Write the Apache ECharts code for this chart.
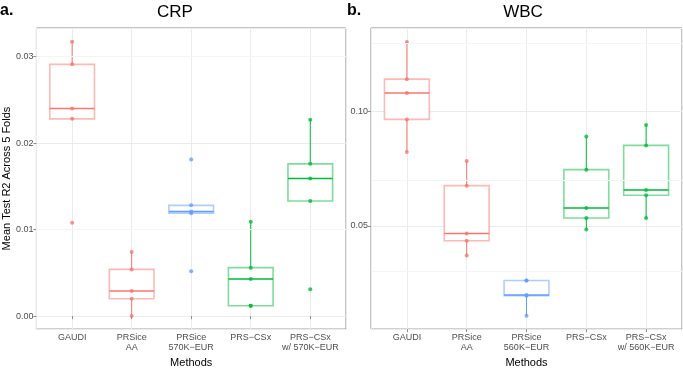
<!DOCTYPE html>
<html>
<head>
<meta charset="utf-8">
<script src="https://cdn.jsdelivr.net/npm/echarts@6/dist/echarts.min.js"></script>
<style>
html, body { margin: 0; padding: 0; background: #fff; }
#chart { width: 683px; height: 373px; }
</style>
</head>
<body>
<div id="chart"></div>
<script>
// methods (x categories)
var crpMethods = ['GAUDI', 'PRSice\nAA', 'PRSice\n570K\u2212EUR', 'PRS\u2212CSx', 'PRS\u2212CSx\nw/ 570K\u2212EUR'];
var wbcMethods = ['GAUDI', 'PRSice\nAA', 'PRSice\n560K\u2212EUR', 'PRS\u2212CSx', 'PRS\u2212CSx\nw/ 560K\u2212EUR'];
var methodColors = ['#F8766D', '#F8766D', '#619CFF', '#00BA38', '#00BA38'];

// per-fold R2 values
var crpPoints = [
  [0.0317, 0.0291, 0.0240, 0.0228, 0.0108],
  [0.0074, 0.0054, 0.0029, 0.0020, 0.0000],
  [0.0181, 0.0128, 0.0121, 0.0119, 0.0052],
  [0.0109, 0.0056, 0.0043, 0.0012, 0.0012],
  [0.0227, 0.0176, 0.0159, 0.0133, 0.0031]
];
var wbcPoints = [
  [0.1305, 0.1142, 0.1081, 0.0966, 0.0823],
  [0.0784, 0.0676, 0.0466, 0.0435, 0.0370],
  [0.0261, 0.0261, 0.0197, 0.0194, 0.0106],
  [0.0891, 0.0746, 0.0578, 0.0534, 0.0484],
  [0.0941, 0.0852, 0.0657, 0.0634, 0.0534]
];

// box stats: [lower whisker, Q1, median, Q3, upper whisker]
var crpBoxes = [
  [0.0228, 0.0228, 0.0240, 0.0291, 0.0317],
  [0.0000, 0.0020, 0.0029, 0.0054, 0.0074],
  [0.0119, 0.0119, 0.0121, 0.0128, 0.0128],
  [0.0012, 0.0012, 0.0043, 0.0056, 0.0109],
  [0.0133, 0.0133, 0.0159, 0.0176, 0.0227]
];
var wbcBoxes = [
  [0.0823, 0.0966, 0.1081, 0.1142, 0.1305],
  [0.0370, 0.0435, 0.0466, 0.0676, 0.0784],
  [0.0106, 0.0194, 0.0197, 0.0261, 0.0261],
  [0.0484, 0.0534, 0.0578, 0.0746, 0.0891],
  [0.0534, 0.0634, 0.0657, 0.0852, 0.0941]
];

// faint minor grid lines
var crpMinor = [0.005, 0.015, 0.025];
var wbcMinor = [0.025, 0.075, 0.125];

var myChart = echarts.init(document.getElementById('chart'));
var gridColor = '#EBEBEB';
var frameColor = '#8c8c8c';

function boxData(boxes) {
  return boxes.map(function (b, i) { return [i + 1].concat(b); });
}
function pointData(points) {
  var out = [];
  points.forEach(function (p, i) {
    p.forEach(function (v) {
      out.push({ value: [i + 1, v], itemStyle: { color: methodColors[i] } });
    });
  });
  return out;
}

function renderBox(params, api) {
  var x = api.value(0);
  var lo = api.coord([x, api.value(1)]);
  var q1 = api.coord([x, api.value(2)]);
  var med = api.coord([x, api.value(3)]);
  var q3 = api.coord([x, api.value(4)]);
  var hi = api.coord([x, api.value(5)]);
  var half = api.size([0.75, 0])[0] / 2;
  var c = methodColors[params.dataIndex];
  return {
    type: 'group',
    children: [
      { type: 'line', shape: { x1: lo[0], y1: lo[1], x2: q1[0], y2: q1[1] }, style: { stroke: c, lineWidth: 1 } },
      { type: 'line', shape: { x1: q3[0], y1: q3[1], x2: hi[0], y2: hi[1] }, style: { stroke: c, lineWidth: 1 } },
      {
        type: 'rect',
        shape: { x: q1[0] - half, y: q3[1], width: half * 2, height: q1[1] - q3[1] },
        style: { fill: '#fff', stroke: echarts.color.modifyAlpha(c, 0.5), lineWidth: 1.6 }
      },
      { type: 'line', shape: { x1: med[0] - half, y1: med[1], x2: med[0] + half, y2: med[1] }, style: { stroke: c, lineWidth: 1.5 } }
    ]
  };
}

function isWhole(v) { return Math.abs(v - Math.round(v)) < 1e-6; }

function makeX(idx, labels) {
  return {
    type: 'value', gridIndex: idx, min: 0.4, max: 5.6, splitNumber: 5,
    axisLine: { show: false },
    axisTick: { length: 3, lineStyle: { color: frameColor } },
    axisLabel: {
      showMinLabel: false, showMaxLabel: false,
      color: '#4D4D4D', fontSize: 9, lineHeight: 10, margin: 3,
      formatter: function (v) { return isWhole(v) ? labels[Math.round(v) - 1] : ''; }
    },
    splitLine: { lineStyle: { color: gridColor } },
    name: 'Methods', nameLocation: 'middle', nameGap: 18,
    nameTextStyle: { color: '#000', fontSize: 11 }
  };
}

function makeY(idx, min, max, withName) {
  var ax = {
    type: 'value', gridIndex: idx, min: min, max: max, splitNumber: 3,
    axisLine: { show: false },
    axisTick: { length: 3, lineStyle: { color: frameColor } },
    axisLabel: {
      showMinLabel: false, showMaxLabel: false,
      color: '#4D4D4D', fontSize: 9, margin: 3,
      formatter: function (v) { return v.toFixed(2); }
    },
    splitLine: { lineStyle: { color: gridColor } }
  };
  if (withName) {
    ax.name = 'Mean Test R2 Across 5 Folds';
    ax.nameLocation = 'middle';
    ax.nameGap = 19;
    ax.nameTextStyle = { color: '#000', fontSize: 11 };
  }
  return ax;
}

function minorLines(vals) {
  return {
    silent: true, symbol: 'none', label: { show: false },
    lineStyle: { color: '#F4F4F4', type: 'solid', width: 1 },
    data: vals.map(function (v) { return { yAxis: v }; })
  };
}

var option = {
  animation: false,
  textStyle: { fontFamily: 'Liberation Sans, Arial, sans-serif' },
  graphic: [
    { type: 'text', x: 0, y: 3, style: { text: 'a.', font: 'bold 16px Liberation Sans', fill: '#000' } },
    { type: 'text', x: 175, y: 12, style: { text: 'CRP', font: '17px Liberation Sans', fill: '#000', align: 'center', verticalAlign: 'middle' } },
    { type: 'text', x: 347, y: 3, style: { text: 'b.', font: 'bold 16px Liberation Sans', fill: '#000' } },
    { type: 'text', x: 523, y: 12, style: { text: 'WBC', font: '17px Liberation Sans', fill: '#000', align: 'center', verticalAlign: 'middle' } }
  ],
  grid: [
    { left: 34, top: 28, width: 312, height: 311, show: true, borderColor: frameColor, borderWidth: 1, backgroundColor: 'transparent' },
    { left: 371, top: 28, width: 311, height: 311, show: true, borderColor: frameColor, borderWidth: 1, backgroundColor: 'transparent' }
  ],
  xAxis: [makeX(0, crpMethods), makeX(1, wbcMethods)],
  yAxis: [makeY(0, -0.0015, 0.0333, true), makeY(1, 0.0048, 0.1366, false)],
  series: [
    {
      type: 'custom', xAxisIndex: 0, yAxisIndex: 0, renderItem: renderBox,
      encode: { x: 0, y: [1, 2, 3, 4, 5] }, data: boxData(crpBoxes), z: 2,
      markLine: minorLines(crpMinor)
    },
    {
      type: 'custom', xAxisIndex: 1, yAxisIndex: 1, renderItem: renderBox,
      encode: { x: 0, y: [1, 2, 3, 4, 5] }, data: boxData(wbcBoxes), z: 2,
      markLine: minorLines(wbcMinor)
    },
    { type: 'scatter', xAxisIndex: 0, yAxisIndex: 0, symbolSize: 4, data: pointData(crpPoints), z: 3 },
    { type: 'scatter', xAxisIndex: 1, yAxisIndex: 1, symbolSize: 4, data: pointData(wbcPoints), z: 3 }
  ]
};
myChart.setOption(option);
</script>
</body>
</html>
